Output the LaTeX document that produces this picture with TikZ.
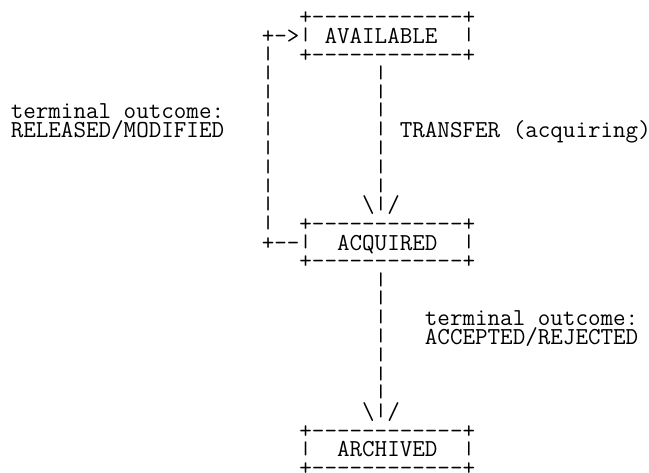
\documentclass[tikz,border=0pt]{standalone}
\usepackage{graphicx}
\usepackage{tikz}
\newlength{\asciicw}
\newcommand{\asciifont}{\fontsize{24}{1.498\asciicw}\ttfamily\selectfont\lineskiplimit=-\maxdimen}
\newcommand{\asciiedge}{+-{}-{}-{}-{}-{}-{}-{}-{}-{}-{}-{}-+}
\newcommand{\asciibar}{\raisebox{0.11em}{\scalebox{1}[0.75]{|}}}

\begin{document}
\settowidth{\asciicw}{\asciifont M}
\begin{tikzpicture}[
    x=\asciicw, y=-1.498\asciicw,
    ascii/.style={font=\asciifont, inner sep=0pt, outer sep=0pt, anchor=base west, align=left},
    shaft/.style={ascii, align=center}
]
    \useasboundingbox (-0.857,-1.303) rectangle (50.853,23.803);
    \node[ascii] (available) at (23,2) {
        \asciiedge\\
        \asciibar~AVAILABLE~~\asciibar\\
        \asciiedge
    };
    \node[ascii] (releaseloop) at (20,12) {
        +->\\
        \asciibar\\ \asciibar\\ \asciibar\\ \asciibar\\ \asciibar\\
        \asciibar\\ \asciibar\\ \asciibar\\ \asciibar\\ \asciibar\\
        +-{}-
    };
    \node[shaft] (transfer) at (28,10) {
        \asciibar\\ \asciibar\\ \asciibar\\ \asciibar\\ \asciibar\\ \asciibar\\ \asciibar\\
        \textbackslash\asciibar/
    };
    \node[ascii] (acquired) at (23,13) {
        \asciiedge\\
        \asciibar~~ACQUIRED~~\asciibar\\
        \asciiedge
    };
    \node[shaft] (accept) at (28,21) {
        \asciibar\\ \asciibar\\ \asciibar\\ \asciibar\\ \asciibar\\ \asciibar\\ \asciibar\\
        \textbackslash\asciibar/
    };
    \node[ascii] (archived) at (23,24) {
        \asciiedge\\
        \asciibar~~ARCHIVED~~\asciibar\\
        \asciiedge
    };
    \node[ascii] (releasedlabel) at (0,6) {
        terminal outcome:\\
        RELEASED/MODIFIED
    };
    \node[ascii] (transferlabel) at (31,6) {TRANSFER (acquiring)};
    \node[ascii] (acceptedlabel) at (33,17) {
        terminal outcome:\\
        ACCEPTED/REJECTED
    };
\end{tikzpicture}
\end{document}
